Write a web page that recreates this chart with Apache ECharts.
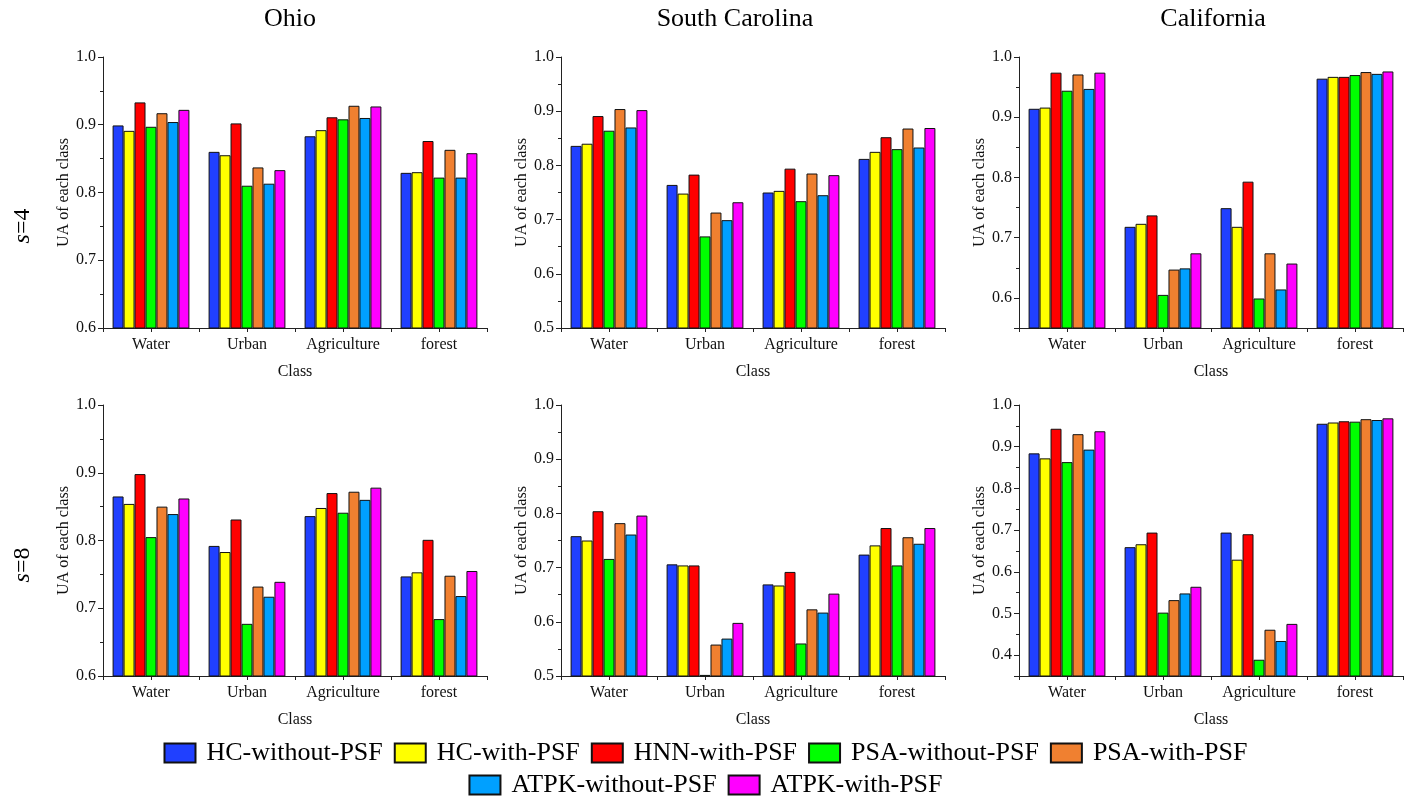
<!DOCTYPE html>
<html>
<head>
<meta charset="utf-8">
<script src="https://cdn.jsdelivr.net/npm/echarts@6/dist/echarts.min.js"></script>
<style>
  html, body { margin: 0; padding: 0; background: #fff; }
  #main { width: 1411px; height: 797px; }
</style>
</head>
<body>
<div id="main"></div>
<script>
var classes = ['Water', 'Urban', 'Agriculture', 'forest'];
var methods = ['HC-without-PSF', 'HC-with-PSF', 'HNN-with-PSF', 'PSA-without-PSF', 'PSA-with-PSF', 'ATPK-without-PSF', 'ATPK-with-PSF'];
var colors = ['#2040ff', '#ffff00', '#ff0000', '#00ff00', '#f08030', '#00a0ff', '#ff00ff'];

// one row per method, values for Water, Urban, Agriculture, forest
var ohioS4 = [
  [0.899, 0.860, 0.883, 0.829],
  [0.891, 0.855, 0.892, 0.830],
  [0.933, 0.902, 0.911, 0.876],
  [0.897, 0.810, 0.908, 0.822],
  [0.917, 0.837, 0.928, 0.863],
  [0.904, 0.813, 0.910, 0.822],
  [0.922, 0.833, 0.927, 0.858]
];
var carolinaS4 = [
  [0.836, 0.764, 0.750, 0.812],
  [0.840, 0.748, 0.753, 0.825],
  [0.891, 0.783, 0.794, 0.852],
  [0.864, 0.669, 0.734, 0.830],
  [0.904, 0.713, 0.785, 0.868],
  [0.870, 0.699, 0.745, 0.833],
  [0.902, 0.732, 0.782, 0.869]
];
var californiaS4 = [
  [0.914, 0.718, 0.749, 0.964],
  [0.916, 0.723, 0.718, 0.967],
  [0.974, 0.737, 0.793, 0.967],
  [0.944, 0.605, 0.599, 0.970],
  [0.971, 0.647, 0.674, 0.975],
  [0.947, 0.649, 0.614, 0.972],
  [0.974, 0.674, 0.657, 0.976]
];
var ohioS8 = [
  [0.865, 0.792, 0.836, 0.747],
  [0.854, 0.783, 0.848, 0.753],
  [0.898, 0.831, 0.870, 0.801],
  [0.805, 0.677, 0.841, 0.684],
  [0.850, 0.732, 0.872, 0.748],
  [0.839, 0.717, 0.860, 0.718],
  [0.862, 0.739, 0.878, 0.755]
];
var carolinaS8 = [
  [0.758, 0.706, 0.669, 0.724],
  [0.750, 0.704, 0.667, 0.741],
  [0.804, 0.704, 0.692, 0.773],
  [0.716, 0.502, 0.560, 0.704],
  [0.782, 0.558, 0.623, 0.756],
  [0.761, 0.569, 0.617, 0.744],
  [0.796, 0.598, 0.652, 0.773]
];
var californiaS8 = [
  [0.884, 0.659, 0.694, 0.955],
  [0.872, 0.666, 0.629, 0.958],
  [0.943, 0.694, 0.690, 0.961],
  [0.863, 0.502, 0.389, 0.960],
  [0.930, 0.532, 0.461, 0.966],
  [0.893, 0.548, 0.434, 0.964],
  [0.937, 0.564, 0.475, 0.968]
];

var states = ['Ohio', 'South Carolina', 'California'];
var panels = [ohioS4, carolinaS4, californiaS4, ohioS8, carolinaS8, californiaS8];
var yMins = [0.6, 0.5, 0.55, 0.6, 0.5, 0.35];

var font = '"Liberation Serif", "Times New Roman", serif';
var ink = '#111';
var lefts = [103, 561, 1019];
var tops = [57, 405];

var grids = [], xAxes = [], yAxes = [], series = [];
panels.forEach(function (data, p) {
  var col = p % 3, row = Math.floor(p / 3);
  grids.push({ left: lefts[col], top: tops[row], width: 384, height: 271, outerBoundsMode: 'none' });
  // main x axis: ticks at category boundaries, labels and name
  xAxes.push({
    type: 'category', gridIndex: p, data: classes,
    name: 'Class', nameLocation: 'middle', nameGap: 36,
    nameTextStyle: { fontFamily: font, fontSize: 16, color: ink },
    axisLine: { lineStyle: { color: '#222', width: 1 } },
    axisTick: { show: true, inside: false, length: 4, lineStyle: { color: '#222' } },
    axisLabel: { fontFamily: font, fontSize: 16, color: ink, margin: 9 },
    splitLine: { show: false }
  });
  // second x axis only for the ticks under each class
  xAxes.push({
    type: 'category', gridIndex: p, data: classes, position: 'bottom',
    axisLine: { show: false },
    axisTick: { show: true, alignWithLabel: true, length: 4, lineStyle: { color: '#222' } },
    axisLabel: { show: false },
    splitLine: { show: false }
  });
  var fixed = yMins[p] === 0.6 || yMins[p] === 0.5;
  var y = {
    type: 'value', gridIndex: p, min: yMins[p], max: 1.0,
    name: 'UA of each class', nameLocation: 'middle', nameGap: 31,
    nameTextStyle: { fontFamily: font, fontSize: 16, color: ink },
    axisLine: { show: true, lineStyle: { color: '#222', width: 1 } },
    axisTick: { show: true, length: 5, lineStyle: { color: '#222' } },
    minorTick: { show: true, splitNumber: 2, length: 3, lineStyle: { color: '#222' } },
    axisLabel: {
      fontFamily: font, fontSize: 16, color: ink, margin: 7, showMinLabel: fixed,
      formatter: function (v) { return v.toFixed(1); }
    },
    splitLine: { show: false }
  };
  if (fixed) y.interval = 0.1;
  else y.splitNumber = 5;
  yAxes.push(y);
  methods.forEach(function (m, i) {
    series.push({
      name: m, type: 'bar', xAxisIndex: p * 2, yAxisIndex: p,
      data: data[i],
      barGap: 0, barCategoryGap: '20%',
      itemStyle: { color: colors[i], borderColor: '#111', borderWidth: 1 }
    });
  });
});

var legendText = { fontFamily: font, fontSize: 26, color: '#000', padding: [0, 0, 0, 6] };

var graphics = [];
var titleX = [290, 735, 1213];
states.forEach(function (s, i) {
  graphics.push({
    type: 'text', x: titleX[i], y: 19,
    style: { text: s, font: '26px ' + font, fill: '#000', align: 'center', verticalAlign: 'middle' }
  });
});
[['4', 226], ['8', 565]].forEach(function (r) {
  graphics.push({
    type: 'text', x: 23, y: r[1], rotation: Math.PI / 2,
    style: {
      text: '{i|s}=' + r[0], fill: '#000', font: '24px ' + font,
      align: 'center', verticalAlign: 'middle',
      rich: { i: { fontStyle: 'italic', fontFamily: font, fontSize: 24 } }
    }
  });
});

var chart = echarts.init(document.getElementById('main'));
chart.setOption({
  animation: false,
  backgroundColor: '#fff',
  color: colors,
  grid: grids,
  xAxis: xAxes,
  yAxis: yAxes,
  legend: [
    {
      data: methods.slice(0, 5), top: 735, left: 'center', icon: 'rect',
      itemWidth: 31, itemHeight: 19, itemGap: 11, textStyle: legendText
    },
    {
      data: methods.slice(5), top: 767, left: 'center', icon: 'rect',
      itemWidth: 31, itemHeight: 19, itemGap: 11, textStyle: legendText
    }
  ],
  graphic: graphics,
  series: series
});
</script>
</body>
</html>
